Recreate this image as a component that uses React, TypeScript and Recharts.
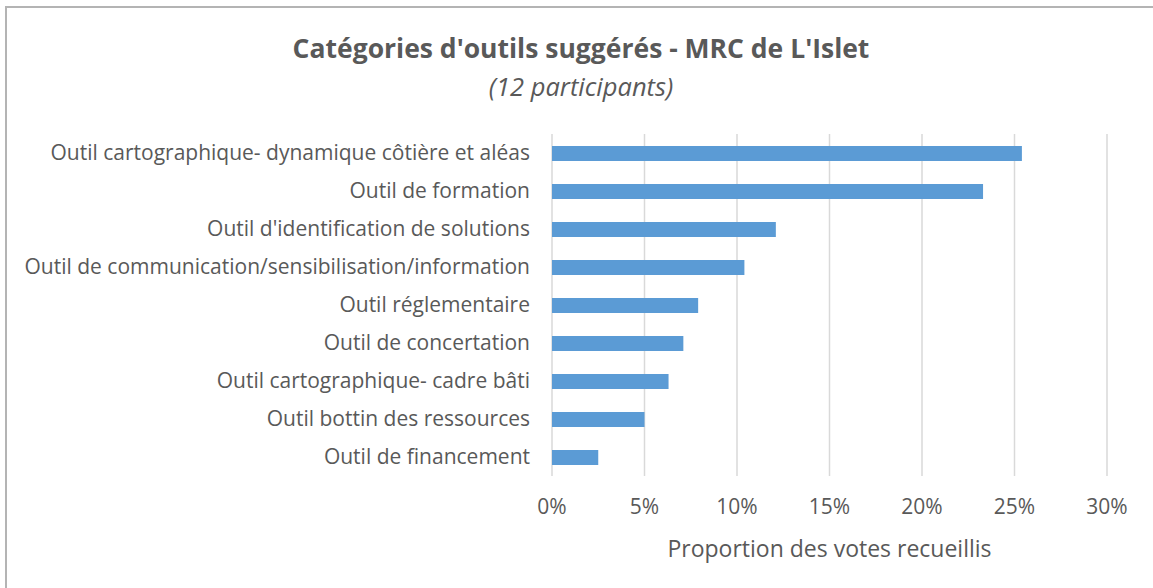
import React from 'react';
import { BarChart, Bar, XAxis, YAxis, CartesianGrid } from 'recharts';

const categories = [
    'Outil cartographique- dynamique côtière et aléas',
    'Outil de formation',
    "Outil d'identification de solutions",
    'Outil de communication/sensibilisation/information',
    'Outil réglementaire',
    'Outil de concertation',
    'Outil cartographique- cadre bâti',
    'Outil bottin des ressources',
    'Outil de financement',
];

// proportion des votes, en %
const shares = [25.4, 23.3, 12.1, 10.4, 7.9, 7.1, 6.3, 5.0, 2.5];

const xTicks = [0, 5, 10, 15, 20, 25, 30];

const TEXT = '#595959';
const FONT = '"Open Sans", sans-serif';

const data = categories.map((name, i) => ({ name, value: shares[i] }));

const App: React.FC = () => {
    return (
        <div style={{ position: 'fixed', left: 0, top: 0, width: 1153, height: 588, overflow: 'hidden', background: '#fff', fontFamily: FONT }}>
            <div style={{ position: 'absolute', left: 5, top: 6, width: 1300, height: 800, borderLeft: '2px solid #b4b4b4', borderTop: '2px solid #b4b4b4' }} />
            <div style={{ position: 'absolute', left: 0, width: 1162, top: 29, textAlign: 'center', color: TEXT, fontSize: 26.5, fontWeight: 700, lineHeight: '38px' }}>
                Catégories d'outils suggérés - MRC de L'Islet
            </div>
            <div style={{ position: 'absolute', left: 0, width: 1162, top: 68, textAlign: 'center', color: TEXT, fontSize: 25.5, fontStyle: 'italic', lineHeight: '36px' }}>
                (12 participants)
            </div>
            <div style={{ position: 'absolute', left: 0, top: 0 }}>
                <BarChart
                    width={1153}
                    height={588}
                    data={data}
                    layout="vertical"
                    margin={{ top: 134, right: 46, bottom: 22, left: 0 }}
                    barSize={15}
                >
                    <CartesianGrid horizontal={false} stroke="#d9d9d9" strokeWidth={1.5} />
                    <XAxis
                        type="number"
                        domain={[0, 30]}
                        ticks={xTicks}
                        tickFormatter={(v) => `${v}%`}
                        axisLine={false}
                        tickLine={false}
                        tickSize={0}
                        tickMargin={23}
                        height={90}
                        tick={{ fill: TEXT, fontSize: 21, fontFamily: FONT }}
                        label={{ value: 'Proportion des votes recueillis', position: 'insideBottom', offset: 9, fill: TEXT, fontSize: 23, fontFamily: FONT }}
                    />
                    <YAxis
                        type="category"
                        dataKey="name"
                        width={552}
                        axisLine={false}
                        tickLine={false}
                        tickSize={0}
                        tickMargin={22}
                        interval={0}
                        tick={{ fill: TEXT, fontSize: 21, fontFamily: FONT }}
                    />
                    <Bar dataKey="value" fill="#5b9bd5" isAnimationActive={false} />
                </BarChart>
            </div>
        </div>
    );
};

export default App;
